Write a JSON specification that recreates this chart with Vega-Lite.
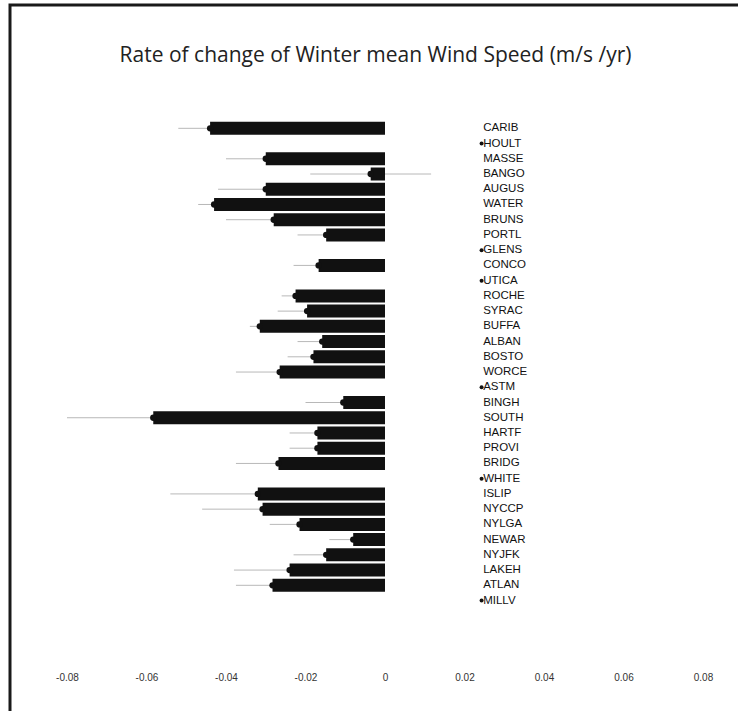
{
  "$schema": "https://vega.github.io/schema/vega-lite/v6.json",
  "width": 731,
  "height": 709,
  "autosize": "none",
  "padding": {"left": 10, "top": 5, "right": 0, "bottom": 0},
  "background": "white",
  "title": {
    "text": "Rate of change of Winter mean Wind Speed  (m/s /yr)",
    "font": "Open Sans",
    "fontSize": 21,
    "fontWeight": "normal",
    "color": "#222",
    "anchor": "middle",
    "baseline": "alphabetic",
    "offset": -78
  },
  "config": {
    "view": {"stroke": "#1a1a1a", "strokeWidth": 3}
  },
  "data": {
    "values": [
      {"row": 1, "station": "CARIB", "value": -0.044, "lo": -0.052, "hi": -0.036},
      {"row": 2, "station": "HOULT", "value": null, "lo": null, "hi": null},
      {"row": 3, "station": "MASSE", "value": -0.030, "lo": -0.040, "hi": -0.020},
      {"row": 4, "station": "BANGO", "value": -0.0036, "lo": -0.0188, "hi": 0.0116},
      {"row": 5, "station": "AUGUS", "value": -0.030, "lo": -0.042, "hi": -0.018},
      {"row": 6, "station": "WATER", "value": -0.043, "lo": -0.047, "hi": -0.039},
      {"row": 7, "station": "BRUNS", "value": -0.028, "lo": -0.040, "hi": -0.016},
      {"row": 8, "station": "PORTL", "value": -0.0148, "lo": -0.022, "hi": -0.008},
      {"row": 9, "station": "GLENS", "value": null, "lo": null, "hi": null},
      {"row": 10, "station": "CONCO", "value": -0.0167, "lo": -0.023, "hi": -0.011},
      {"row": 11, "station": "UTICA", "value": null, "lo": null, "hi": null},
      {"row": 12, "station": "ROCHE", "value": -0.0225, "lo": -0.026, "hi": -0.019},
      {"row": 13, "station": "SYRAC", "value": -0.0196, "lo": -0.027, "hi": -0.012},
      {"row": 14, "station": "BUFFA", "value": -0.0315, "lo": -0.034, "hi": -0.029},
      {"row": 15, "station": "ALBAN", "value": -0.0158, "lo": -0.022, "hi": -0.010},
      {"row": 16, "station": "BOSTO", "value": -0.018, "lo": -0.0245, "hi": -0.0115},
      {"row": 17, "station": "WORCE", "value": -0.0265, "lo": -0.0375, "hi": -0.0155},
      {"row": 18, "station": "ASTM", "value": null, "lo": null, "hi": null},
      {"row": 19, "station": "BINGH", "value": -0.0105, "lo": -0.020, "hi": -0.001},
      {"row": 20, "station": "SOUTH", "value": -0.0583, "lo": -0.080, "hi": -0.036},
      {"row": 21, "station": "HARTF", "value": -0.017, "lo": -0.024, "hi": -0.010},
      {"row": 22, "station": "PROVI", "value": -0.017, "lo": -0.024, "hi": -0.010},
      {"row": 23, "station": "BRIDG", "value": -0.0268, "lo": -0.0375, "hi": -0.016},
      {"row": 24, "station": "WHITE", "value": null, "lo": null, "hi": null},
      {"row": 25, "station": "ISLIP", "value": -0.032, "lo": -0.054, "hi": -0.010},
      {"row": 26, "station": "NYCCP", "value": -0.0308, "lo": -0.046, "hi": -0.0156},
      {"row": 27, "station": "NYLGA", "value": -0.0215, "lo": -0.029, "hi": -0.014},
      {"row": 28, "station": "NEWAR", "value": -0.008, "lo": -0.014, "hi": -0.002},
      {"row": 29, "station": "NYJFK", "value": -0.0148, "lo": -0.023, "hi": -0.0066},
      {"row": 30, "station": "LAKEH", "value": -0.024, "lo": -0.038, "hi": -0.010},
      {"row": 31, "station": "ATLAN", "value": -0.0283, "lo": -0.0375, "hi": -0.019},
      {"row": 32, "station": "MILLV", "value": null, "lo": null, "hi": null}
    ]
  },
  "encoding": {
    "y": {
      "field": "row",
      "type": "quantitative",
      "scale": {"domain": [-6.767, 39.12], "reverse": true, "nice": false, "zero": false},
      "axis": null
    }
  },
  "layer": [
    {
      "data": {"values": [{}]},
      "mark": {"type": "rule", "color": "#c4c4c4", "strokeWidth": 2},
      "encoding": {
        "x": {
          "datum": -0.088,
          "type": "quantitative",
          "scale": {"domain": [-0.09434, 0.08956], "nice": false, "zero": false},
          "axis": {
            "orient": "bottom",
            "offset": -47,
            "values": [-0.08, -0.06, -0.04, -0.02, 0, 0.02, 0.04, 0.06, 0.08],
            "labelExpr": "replace(format(datum.value, '.2~f'), '\u2212', '-')",
            "domain": false,
            "ticks": false,
            "grid": false,
            "title": null,
            "labelFont": "Liberation Sans",
            "labelFontSize": 10,
            "labelColor": "#333",
            "labelPadding": 5
          }
        },
        "x2": {"datum": 0.086},
        "y": {"datum": 0.094}
      }
    },
    {
      "data": {"values": [{}]},
      "mark": {"type": "rule", "color": "#e2e2e2", "strokeWidth": 1},
      "encoding": {
        "x": {"datum": -0.088},
        "x2": {"datum": 0.08},
        "y": {"datum": 36.08}
      }
    },
    {
      "data": {"values": [{}]},
      "mark": {"type": "rule", "color": "#555", "strokeWidth": 1},
      "encoding": {
        "x": {"datum": 0},
        "y": {"datum": 0.094},
        "y2": {"datum": 35.95}
      }
    },
    {
      "transform": [{"filter": "datum.value !== null"}],
      "mark": {"type": "rule", "color": "#b8b8b8", "strokeWidth": 1},
      "encoding": {
        "x": {"field": "lo", "type": "quantitative"},
        "x2": {"field": "hi"}
      }
    },
    {
      "transform": [{"filter": "datum.value !== null"}],
      "mark": {"type": "bar", "orient": "horizontal", "size": 13, "color": "#111"},
      "encoding": {
        "x": {"field": "value", "type": "quantitative"}
      }
    },
    {
      "transform": [{"filter": "datum.value !== null"}],
      "mark": {"type": "point", "filled": true, "shape": "circle", "size": 40, "color": "#111", "opacity": 1},
      "encoding": {
        "x": {"field": "value", "type": "quantitative"}
      }
    },
    {
      "transform": [{"filter": "datum.value === null"}],
      "mark": {"type": "point", "filled": true, "shape": "circle", "size": 16, "color": "#111", "opacity": 1},
      "encoding": {
        "x": {"datum": 0.0243}
      }
    },
    {
      "mark": {
        "type": "text",
        "align": "left",
        "baseline": "middle",
        "font": "Liberation Sans",
        "fontSize": 11.5,
        "color": "#111"
      },
      "encoding": {
        "x": {"datum": 0.0247},
        "text": {"field": "station"}
      }
    }
  ]
}
